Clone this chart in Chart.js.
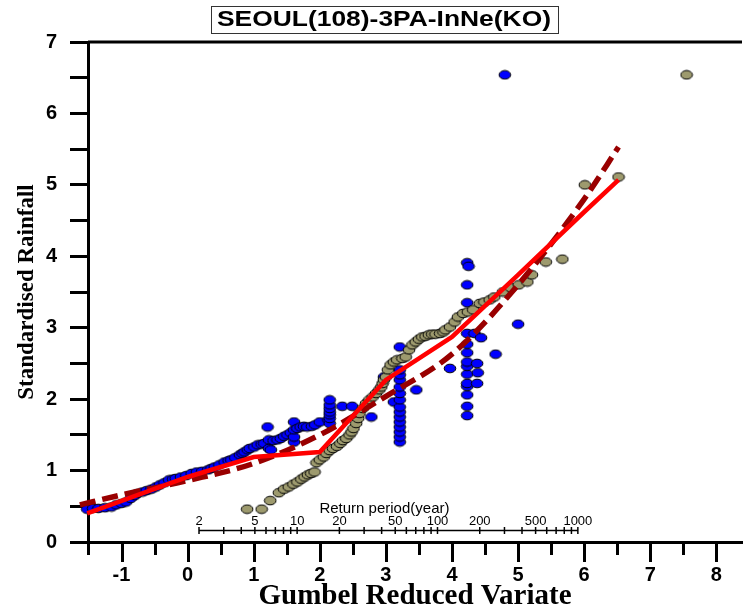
<!DOCTYPE html>
<html>
<head>
<meta charset="utf-8">
<title>SEOUL(108)-3PA-InNe(KO)</title>
<script src="https://cdn.jsdelivr.net/npm/chart.js@4.4.0/dist/chart.umd.min.js"></script>
<style>
  html, body { margin: 0; padding: 0; background: #ffffff; }
  .chart__container { width: 751px; height: 609px; }
</style>
</head>
<body>
<div class="chart__container"><canvas id="chart__1" width="751" height="609"></canvas></div>
<script>
"use strict";

// ** Data
const chartTitle = "SEOUL(108)-3PA-InNe(KO)";
const xTitle = "Gumbel Reduced Variate";
const yTitle = "Standardised Rainfall";
const returnTitle = "Return period(year)";

// x axis ticks (labels only on whole numbers)
const xTickValues = [
  -1.5, -1, -0.5, 0, 0.5, 1, 1.5, 2, 2.5, 3, 3.5, 4, 4.5, 5, 5.5, 6, 6.5, 7, 7.5, 8,
];

// observed (blue)
const blueX = [
  -1.63, -1.52, -1.43, -1.35, -1.25, -1.15, -1.08, -1.0, -0.93, -0.86,
  -0.8, -0.76, -0.68, -0.62, -0.55, -0.48, -0.42, -0.35, -0.28, -0.22,
  -0.18, -0.1, -0.02, 0.06, 0.14, 0.22, 0.31, 0.36, 0.41, 0.48,
  0.56, 0.62, 0.66, 0.72, 0.79, 0.83, 0.86, 0.91, 0.94, 1.01,
  1.06, 1.12, 1.16, 1.21, 1.23, 1.23, 1.26, 1.3, 1.36, 1.41,
  1.46, 1.51, 1.56, 1.61, 1.61, 1.61, 1.61, 1.66, 1.71, 1.76,
  1.81, 1.88, 1.93, 2.0, 2.13, 2.15, 2.15, 2.15, 2.15, 2.15,
  2.15, 2.15, 2.34, 2.49, 2.78, 2.97, 3.12, 3.21, 3.21, 3.21,
  3.21, 3.21, 3.21, 3.21, 3.21, 3.21, 3.21, 3.21, 3.21, 3.21,
  3.21, 3.21, 3.46, 3.97, 4.23, 4.23, 4.23, 4.23, 4.23, 4.23,
  4.23, 4.23, 4.23, 4.23, 4.23, 4.23, 4.23, 4.23, 4.25, 4.34,
  4.38, 4.38, 4.39, 4.44, 4.66, 4.8, 5.0,
];
const blueY = [
  0.45, 0.46, 0.47, 0.47, 0.48, 0.49, 0.52, 0.54, 0.56, 0.61,
  0.65, 0.68, 0.7, 0.72, 0.74, 0.77, 0.8, 0.83, 0.87, 0.88,
  0.89, 0.91, 0.93, 0.96, 0.98, 0.99, 1.01, 1.03, 1.05, 1.08,
  1.12, 1.14, 1.15, 1.18, 1.22, 1.24, 1.26, 1.29, 1.31, 1.33,
  1.36, 1.37, 1.38, 1.61, 1.43, 1.31, 1.29, 1.42, 1.43, 1.45,
  1.48, 1.5, 1.53, 1.4, 1.47, 1.57, 1.68, 1.59, 1.61, 1.62,
  1.61, 1.62, 1.64, 1.68, 1.71, 1.66, 1.73, 1.78, 1.82, 1.87,
  1.92, 1.99, 1.9, 1.9, 1.75, 2.31, 1.96, 1.4, 1.47, 1.54,
  1.61, 1.68, 1.75, 1.82, 1.89, 1.99, 2.08, 2.17, 2.27, 2.34,
  2.41, 2.73, 2.13, 2.43, 1.77, 1.9, 2.06, 2.18, 2.22, 2.35,
  2.46, 2.52, 2.65, 2.77, 2.92, 3.35, 3.6, 3.91, 3.86, 2.92,
  2.22, 2.5, 2.37, 2.86, 2.63, 6.54, 3.05,
];

// sorted sample (olive)
const oliveX = [
  0.9, 1.12, 1.25, 1.38, 1.46, 1.53, 1.6, 1.66, 1.72, 1.77,
  1.82, 1.87, 1.92, 1.95, 2.0, 2.06, 2.1, 2.15, 2.2, 2.26,
  2.31, 2.35, 2.4, 2.45, 2.48, 2.51, 2.55, 2.58, 2.6, 2.65,
  2.7, 2.75, 2.8, 2.85, 2.9, 2.93, 2.95, 2.97, 3.0, 3.03,
  3.07, 3.12, 3.17, 3.25, 3.3, 3.35, 3.4, 3.45, 3.5, 3.55,
  3.6, 3.65, 3.7, 3.75, 3.82, 3.87, 3.9, 3.97, 4.04, 4.09,
  4.17, 4.24, 4.32, 4.42, 4.49, 4.57, 4.64, 4.77, 4.89, 5.01,
  5.14, 5.21, 5.42, 5.67, 6.01, 6.52, 7.55,
];
const oliveY = [
  0.46, 0.46, 0.58, 0.69, 0.74, 0.77, 0.81, 0.84, 0.88, 0.91,
  0.94, 0.96, 0.98, 1.11, 1.15, 1.19, 1.24, 1.28, 1.31, 1.34,
  1.38, 1.42, 1.45, 1.5, 1.54, 1.59, 1.66, 1.73, 1.8, 1.87,
  1.94, 1.99, 2.03, 2.08, 2.13, 2.17, 2.22, 2.27, 2.31, 2.41,
  2.48, 2.52, 2.55, 2.57, 2.59, 2.69, 2.76, 2.8, 2.84, 2.87,
  2.88, 2.9, 2.91, 2.91, 2.92, 2.94, 2.97, 3.01, 3.08, 3.15,
  3.2, 3.22, 3.25, 3.34, 3.36, 3.39, 3.43, 3.5, 3.56, 3.6,
  3.64, 3.74, 3.92, 3.96, 5.0, 5.11, 6.54,
];

// fitted curves
const fitX = [-1.52, 0, 1, 2, 3, 4, 5, 6, 6.52];
const fitY = [0.4, 0.91, 1.19, 1.26, 2.27, 2.87, 3.74, 4.62, 5.07];
const dashX = [-1.63, -1, 0, 1, 2, 3, 4, 5, 6, 6.52];
const dashY = [0.52, 0.66, 0.86, 1.1, 1.5, 2.04, 2.63, 3.6, 4.8, 5.53];

// return period axis
const returnMajor = [2, 5, 10, 20, 50, 100, 200, 500, 1000];
const returnMinor = [3, 4, 6, 7, 8, 9, 30, 40, 60, 70, 80, 90, 300, 400, 600, 700, 800, 900];

// ** Helpers

const sansFamily = "'Liberation Sans', Arial, sans-serif";
const serifFamily = "'Liberation Serif', 'Times New Roman', serif";

function toPoints(xs, ys) {
  return xs.map((x, i) => ({ x: x, y: ys[i] }));
}

function makeDot(fill) {
  const c = document.createElement("canvas");
  c.width = 14;
  c.height = 11;
  const g = c.getContext("2d");
  g.beginPath();
  g.ellipse(7, 5.5, 5.8, 4.3, 0, 0, Math.PI * 2);
  g.fillStyle = fill;
  g.fill();
  g.lineWidth = 1;
  g.strokeStyle = "#000000";
  g.stroke();
  return c;
}

// ** Plugins

const titleBox = {
  id: "titleBox",
  afterDraw: (chart) => {
    const { ctx } = chart;
    ctx.save();
    ctx.font = `bold 22px ${sansFamily}`;
    const w = ctx.measureText(chartTitle).width;
    const sx = 334 / w;
    ctx.strokeStyle = "#333333";
    ctx.lineWidth = 1;
    ctx.strokeRect(211.5, 6.5, 347, 27);
    ctx.translate(384, 20);
    ctx.scale(sx, 1);
    ctx.fillStyle = "#000000";
    ctx.textAlign = "center";
    ctx.textBaseline = "middle";
    ctx.fillText(chartTitle, 0, 0);
    ctx.restore();
  },
};

const frameAndTicks = {
  id: "frameAndTicks",
  afterDraw: (chart) => {
    const { ctx, chartArea, scales } = chart;
    ctx.save();
    ctx.strokeStyle = "#000000";
    ctx.lineWidth = 3;
    // top frame line
    ctx.beginPath();
    ctx.moveTo(chartArea.left, chartArea.top);
    ctx.lineTo(chartArea.right, chartArea.top);
    ctx.stroke();
    // x ticks, long on whole numbers
    scales.x.ticks.forEach((t) => {
      const px = Math.round(scales.x.getPixelForValue(t.value)) + 0.5;
      const len = Number.isInteger(t.value) ? 20 : 13;
      ctx.beginPath();
      ctx.moveTo(px, chartArea.bottom);
      ctx.lineTo(px, chartArea.bottom + len);
      ctx.stroke();
    });
    ctx.restore();
  },
};

const returnAxis = {
  id: "returnAxis",
  beforeDatasetsDraw: (chart) => {
    const { ctx, scales } = chart;
    const t = scales.xT;
    const yPix = Math.round(scales.y.getPixelForValue(0.165)) + 0.5;
    const x0 = t.getPixelForValue(returnMajor[0]);
    const x1 = t.getPixelForValue(returnMajor[returnMajor.length - 1]);
    ctx.save();
    ctx.strokeStyle = "#000000";
    ctx.lineWidth = 1.5;
    ctx.beginPath();
    ctx.moveTo(x0, yPix);
    ctx.lineTo(x1, yPix);
    ctx.stroke();
    [...returnMajor, ...returnMinor].forEach((v) => {
      const px = t.getPixelForValue(v);
      ctx.beginPath();
      ctx.moveTo(px, yPix - 3.5);
      ctx.lineTo(px, yPix + 3.5);
      ctx.stroke();
    });
    ctx.fillStyle = "#000000";
    ctx.textAlign = "center";
    ctx.textBaseline = "middle";
    ctx.font = `13px ${sansFamily}`;
    returnMajor.forEach((v) => {
      ctx.fillText(String(v), t.getPixelForValue(v), yPix - 9);
    });
    ctx.font = `15px ${sansFamily}`;
    ctx.fillText(returnTitle, (x0 + x1) / 2 - 4, yPix - 22);
    ctx.restore();
  },
};

// ** Chart

const config = {
  type: "scatter",
  data: {
    datasets: [
      {
        label: "fit",
        data: toPoints(fitX, fitY),
        showLine: true,
        borderColor: "#ff0000",
        borderWidth: 4.5,
        pointRadius: 0,
        tension: 0,
        clip: false,
        order: 1,
      },
      {
        label: "fit2",
        data: toPoints(dashX, dashY),
        showLine: true,
        borderColor: "#990000",
        borderWidth: 5.5,
        borderDash: [16, 7],
        cubicInterpolationMode: "monotone",
        pointRadius: 0,
        clip: false,
        order: 2,
      },
      {
        label: "sorted",
        data: toPoints(oliveX, oliveY),
        pointStyle: makeDot("#9d9a6e"),
        pointRadius: 9,
        borderWidth: 0,
        clip: false,
        order: 3,
      },
      {
        label: "observed",
        data: toPoints(blueX, blueY),
        pointStyle: makeDot("#0000ff"),
        pointRadius: 9,
        borderWidth: 0,
        clip: false,
        order: 4,
      },
    ],
  },
  options: {
    responsive: false,
    animation: false,
    devicePixelRatio: 1,
    layout: { padding: { top: 42, left: 0, right: 0, bottom: 0 } },
    plugins: {
      legend: { display: false },
      tooltip: { enabled: false },
      title: { display: false },
    },
    scales: {
      x: {
        type: "linear",
        position: "bottom",
        min: -1.507,
        max: 8.388,
        bounds: "data",
        grid: { display: false, drawTicks: false },
        border: { display: true, width: 3, color: "#000000" },
        afterBuildTicks: (scale) => {
          scale.ticks = xTickValues.map((v) => ({ value: v }));
        },
        ticks: {
          autoSkip: false,
          maxRotation: 0,
          padding: 21,
          color: "#000000",
          font: { family: sansFamily, size: 20, weight: "bold" },
          callback: (value) => (Number.isInteger(value) ? value : ""),
        },
        title: {
          display: true,
          text: xTitle,
          color: "#000000",
          font: { family: serifFamily, size: 29, weight: "bold", lineHeight: 0.85 },
          padding: { top: 0, bottom: 0 },
        },
        afterFit: (scale) => {
          scale.height = 67;
        },
      },
      xT: {
        type: "logarithmic",
        axis: "x",
        position: "top",
        display: false,
        min: 0.3237,
        max: 14770,
        bounds: "data",
      },
      y: {
        type: "linear",
        position: "left",
        min: 0,
        max: 7,
        grid: {
          drawOnChartArea: false,
          drawTicks: true,
          tickLength: 18,
          tickWidth: 3,
          tickColor: "#000000",
        },
        border: { display: true, width: 3, color: "#000000" },
        ticks: {
          stepSize: 0.5,
          autoSkip: false,
          padding: 13,
          color: "#000000",
          font: { family: sansFamily, size: 20, weight: "bold" },
          callback: (value) => (Number.isInteger(value) ? value : ""),
        },
        title: {
          display: true,
          text: yTitle,
          color: "#000000",
          font: { family: serifFamily, size: 23, weight: "bold", lineHeight: 1.2 },
          padding: { top: 13, bottom: 0 },
        },
        afterFit: (scale) => {
          scale.width = 88;
        },
      },
    },
  },
  plugins: [
    {
      id: "bgColor",
      beforeDraw: (chart) => {
        const { ctx, width, height } = chart;
        ctx.save();
        ctx.fillStyle = "#ffffff";
        ctx.fillRect(0, 0, width, height);
        ctx.restore();
      },
    },
    returnAxis,
    frameAndTicks,
    titleBox,
  ],
};

const ctx = document.getElementById("chart__1").getContext("2d");
const chart = new Chart(ctx, config);
</script>
</body>
</html>
